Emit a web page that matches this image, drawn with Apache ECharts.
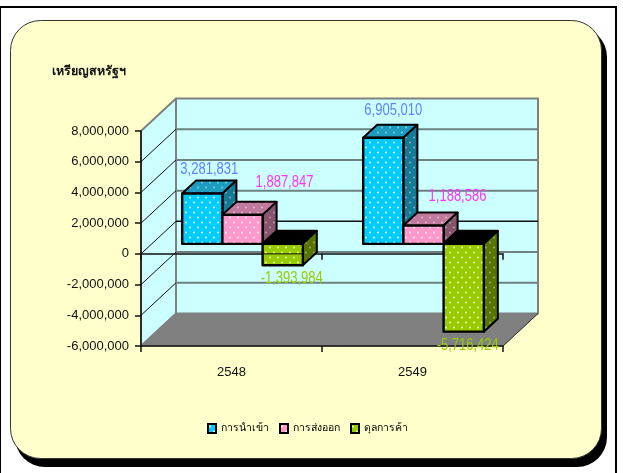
<!DOCTYPE html>
<html>
<head>
<meta charset="utf-8">
<style>html,body{margin:0;padding:0;background:#fff}#chart{width:623px;height:473px}</style>
<script src="https://cdn.jsdelivr.net/npm/echarts@6/dist/echarts.min.js"></script>
</head>
<body>
<div id="chart"></div>
<script>
const years = ['2548', '2549'];
const yTicks = [-6000000, -4000000, -2000000, 0, 2000000, 4000000, 6000000, 8000000];
const seriesNames = ['การนำเข้า', 'การส่งออก', 'ดุลการค้า'];
const importValues = [3281831, 6905010];
const exportValues = [1887847, 1188586];
const balanceValues = [-1393984, -5716424];
const unitLabel = 'เหรียญสหรัฐฯ';

const FONT = '"Liberation Sans",Arial,sans-serif';
const THAI = '"Noto Sans","DejaVu Sans",sans-serif';

// chart depth, wall plane and bar plane
const WALL = [35, -32.5];
const BAR = [11, -10];
const SIDE = [14, -13];

// white dots of the bar fill
function dots(color, dot) {
    const c = document.createElement('canvas');
    c.width = 8;
    c.height = 10;
    const g = c.getContext('2d');
    g.fillStyle = color;
    g.fillRect(0, 0, 8, 10);
    g.fillStyle = dot;
    g.beginPath();
    g.arc(2, 2.5, 1, 0, 7);
    g.arc(6, 7.5, 1, 0, 7);
    g.fill();
    return { image: c, repeat: 'repeat' };
}

const looks = [
    { front: dots('#00ccff', '#e4faff'), top: dots('#1c9cc0', '#8ccddf'), side: dots('#157a96', '#7ab4c4'), text: '#5f80ff' },
    { front: dots('#ff99cc', '#fff0f7'), top: dots('#c07a9e', '#e0b8cc'), side: dots('#85556e', '#b898a8'), text: '#ff33ff' },
    { front: dots('#99cc00', '#eef8c4'), top: '#000', side: dots('#587500', '#9bb070'), text: '#99cc00' }
];

// label shift from the middle of the bar's front face, hand placed in the original
const labelNudge = [
    [[7, -24], [10, -27]],
    [[42, -32], [34, -29]],
    [[9, 13], [4, 14]]
];

function poly(points, fill, stroke, lineWidth) {
    return {
        type: 'polygon',
        shape: { points: points },
        style: { fill: fill, stroke: stroke || null, lineWidth: lineWidth || 0, lineJoin: 'round' }
    };
}

function line(a, b, stroke, lineWidth) {
    return {
        type: 'line',
        shape: { x1: a[0], y1: a[1], x2: b[0], y2: b[1] },
        style: { stroke: stroke, lineWidth: lineWidth }
    };
}

function renderWalls(params, api) {
    const box = params.coordSys;
    const left = box.x, right = box.x + box.width, top = box.y, bottom = box.y + box.height;
    const value = api.value(1);
    const y = api.coord([0, value])[1];
    const kids = [];
    if (params.dataIndex === 0) {
        kids.push(poly([[left + WALL[0], top + WALL[1]], [right + WALL[0], top + WALL[1]],
            [right + WALL[0], bottom + WALL[1]], [left + WALL[0], bottom + WALL[1]]], '#ccffff', '#808080', 2));
        kids.push(poly([[left, top], [left + WALL[0], top + WALL[1]],
            [left + WALL[0], bottom + WALL[1]], [left, bottom]], '#ccffff', '#808080', 2));
        kids.push(poly([[left, bottom], [right, bottom],
            [right + WALL[0], bottom + WALL[1]], [left + WALL[0], bottom + WALL[1]]], '#808080', '#808080', 1));
        kids.push(line([right, bottom], [right + WALL[0], bottom + WALL[1]], '#333', 1));
    }
    if (value !== yTicks[0] && value !== yTicks[yTicks.length - 1]) {
        kids.push(line([left + WALL[0], y + WALL[1]], [right + WALL[0], y + WALL[1]],
            value === 0 ? '#111' : '#6e8080', value === 0 ? 1.5 : 2));
        kids.push(line([left, y], [left + WALL[0], y + WALL[1]], '#111', 1));
    }
    return { type: 'group', children: kids };
}

function barRenderer(index) {
    return function (params, api) {
        const look = looks[index];
        const cat = api.value(0);
        const value = api.value(1);
        const w = api.size([1, 0])[0] * 0.2222;
        const x0 = api.coord([cat, 0])[0] + BAR[0] + (index - 1.5) * w;
        const x1 = x0 + w;
        const base = api.coord([cat, 0])[1] + BAR[1];
        const end = api.coord([cat, value])[1] + BAR[1];
        const upper = Math.min(base, end), lower = Math.max(base, end);
        const kids = [
            poly([[x0, upper], [x1, upper], [x1 + SIDE[0], upper + SIDE[1]], [x0 + SIDE[0], upper + SIDE[1]]], look.top, '#000', 2),
            poly([[x1, upper], [x1 + SIDE[0], upper + SIDE[1]], [x1 + SIDE[0], lower + SIDE[1]], [x1, lower]], look.side, '#000', 2),
            poly([[x0, upper], [x1, upper], [x1, lower], [x0, lower]], look.front, '#000', 2.4)
        ];
        // the zero line shows through the first balance bar in the original
        if (index === 2 && params.dataIndex === 0) {
            const zero = api.coord([cat, 0])[1];
            kids.push(line([x0, zero], [x1, zero], '#111', 1));
        }
        const nudge = labelNudge[index][params.dataIndex];
        kids.push({
            type: 'text',
            z2: 50,
            x: (x0 + x1) / 2 + nudge[0],
            y: (value < 0 ? lower : upper) + nudge[1],
            scaleY: 1.25,
            style: {
                x: 0,
                y: 0,
                text: value.toLocaleString('en-US'),
                fill: look.text,
                font: '13px ' + FONT,
                align: 'center',
                verticalAlign: 'middle'
            }
        });
        return { type: 'group', children: kids };
    };
}

function barSeries(index, values) {
    return {
        name: seriesNames[index],
        type: 'custom',
        z: 3 + index,
        renderItem: barRenderer(index),
        encode: { x: 0, y: 1 },
        itemStyle: { color: looks[index].front },
        data: values.map(function (v, i) { return [i, v]; })
    };
}

const chart = echarts.init(document.getElementById('chart'));
chart.setOption({
    animation: false,
    backgroundColor: '#fff',
    title: {
        text: unitLabel,
        left: 47,
        top: 60,
        textStyle: { fontFamily: THAI, fontSize: 12.5, fontWeight: 'bold', color: '#111' }
    },
    graphic: [
        { type: 'rect', z: -20, shape: { x: 0, y: 7, width: 616, height: 500 }, style: { fill: '#fff', stroke: '#000', lineWidth: 2 } },
        { type: 'rect', z: -19, shape: { x: 15, y: 27, width: 592, height: 440, r: 30 }, style: { fill: '#000' } },
        { type: 'rect', z: -18, shape: { x: 10.5, y: 20.5, width: 591, height: 438, r: 30 }, style: { fill: '#ffffcc', stroke: '#333', lineWidth: 1 } }
    ],
    legend: {
        left: 202,
        top: 418,
        itemWidth: 8,
        itemHeight: 9,
        itemGap: 10,
        textStyle: { fontFamily: THAI, fontSize: 10.5, color: '#000' },
        data: seriesNames.map(function (name, i) {
            return { name: name, icon: 'rect', itemStyle: { color: looks[i].front, borderColor: '#000', borderWidth: 2 } };
        })
    },
    grid: { left: 141, top: 131, width: 362, height: 215 },
    xAxis: [
        {
            type: 'category',
            data: years,
            axisLine: { show: true, onZero: false, lineStyle: { color: '#111', width: 1.5 } },
            axisTick: { show: true, length: 6, lineStyle: { color: '#111', width: 1.5 } },
            axisLabel: { margin: 20, fontFamily: FONT, fontSize: 13, color: '#111' }
        },
        {
            type: 'category',
            data: years,
            position: 'bottom',
            axisLine: { show: true, onZero: true, lineStyle: { color: '#111', width: 1.5 } },
            axisTick: { show: true, length: 6, lineStyle: { color: '#111', width: 1.5 } },
            axisLabel: { show: false }
        }
    ],
    yAxis: {
        type: 'value',
        min: -6000000,
        max: 8000000,
        interval: 2000000,
        splitLine: { show: false },
        axisLine: { show: true, onZero: false, lineStyle: { color: '#111', width: 1.5 } },
        axisTick: { show: true, length: 6, lineStyle: { color: '#111', width: 1.5 } },
        axisLabel: {
            margin: 12,
            fontFamily: FONT,
            fontSize: 13,
            color: '#111',
            formatter: function (v) { return v.toLocaleString('en-US'); }
        }
    },
    series: [
        {
            type: 'custom',
            z: -1,
            silent: true,
            renderItem: renderWalls,
            encode: { x: 0, y: 1 },
            data: yTicks.map(function (v) { return [0, v]; })
        },
        barSeries(0, importValues),
        barSeries(1, exportValues),
        barSeries(2, balanceValues)
    ]
});
</script>
</body>
</html>
